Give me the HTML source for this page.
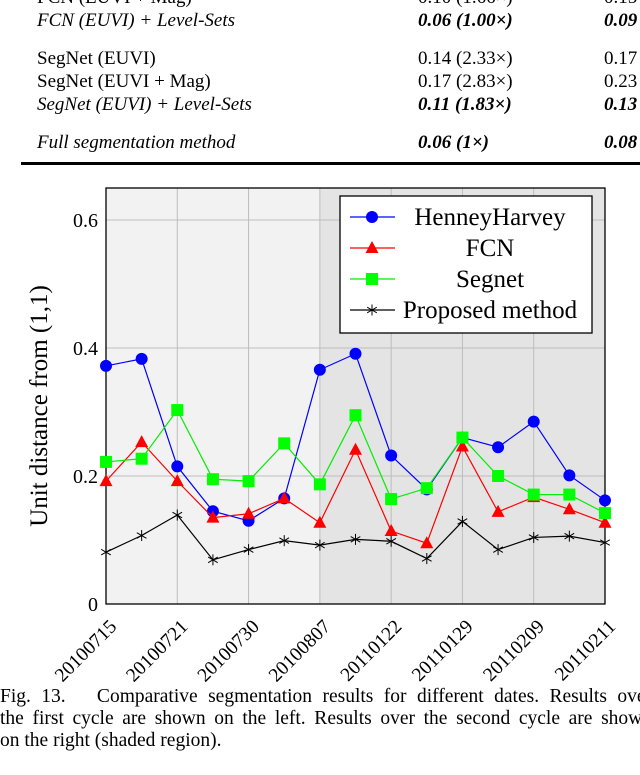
<!DOCTYPE html>
<html><head><meta charset="utf-8"><style>
body{margin:0;width:640px;height:775px;overflow:hidden;background:#fff;font-family:"Liberation Serif",serif;color:#000}
.t{position:absolute;font-size:19px;white-space:nowrap}
.i{font-style:italic}.b{font-weight:bold;font-style:italic}
.cap{position:absolute;left:0;width:652px;font-size:19.5px;white-space:nowrap;text-align:justify;text-align-last:justify;transform-origin:0 0;transform:scaleY(1.05)}
</style></head><body>
<div>
<div class="t" style="left:37px;top:-13px">FCN (EUVI + Mag)</div><div class="t" style="left:418px;top:-13px">0.10 (1.66×)</div><div class="t" style="left:604px;top:-13px">0.15</div>
<div class="t i" style="left:37px;top:10px">FCN (EUVI) + Level-Sets</div><div class="t b" style="left:418px;top:10px">0.06 (1.00×)</div><div class="t b" style="left:604px;top:10px">0.09</div>
<div class="t" style="left:37px;top:48px">SegNet (EUVI)</div><div class="t" style="left:418px;top:48px">0.14 (2.33×)</div><div class="t" style="left:604px;top:48px">0.17</div>
<div class="t" style="left:37px;top:71px">SegNet (EUVI + Mag)</div><div class="t" style="left:418px;top:71px">0.17 (2.83×)</div><div class="t" style="left:604px;top:71px">0.23</div>
<div class="t i" style="left:37px;top:94px">SegNet (EUVI) + Level-Sets</div><div class="t b" style="left:418px;top:94px">0.11 (1.83×)</div><div class="t b" style="left:604px;top:94px">0.13</div>
<div class="t i" style="left:37px;top:132px">Full segmentation method</div><div class="t b" style="left:418px;top:132px">0.06 (1×)</div><div class="t b" style="left:604px;top:132px">0.08</div>
<div style="position:absolute;left:21px;top:162px;width:619px;height:3px;background:#000"></div>
</div>
<svg id="chart" width="640" height="690" style="position:absolute;left:0;top:0" xmlns="http://www.w3.org/2000/svg"></svg>
<div>
<div class="cap" style="top:685px">Fig. 13.&nbsp;&nbsp;&nbsp;Comparative segmentation results for different dates. Results over</div>
<div class="cap" style="top:707px">the first cycle are shown on the left. Results over the second cycle are shown</div>
<div class="cap" style="top:729px;text-align-last:left">on the right (shaded region).</div>
</div>
<script>
const dates=["20100715","","20100721","","20100730","","20100807","","20110122","","20110129","","20110209","","20110211"];
const henney=[0.372,0.383,0.215,0.145,0.130,0.165,0.366,0.391,0.232,0.179,0.260,0.245,0.285,0.201,0.162];
const fcn=[0.192,0.253,0.192,0.135,0.141,0.165,0.127,0.241,0.114,0.095,0.246,0.144,0.167,0.148,0.127];
const segnet=[0.222,0.227,0.303,0.195,0.192,0.251,0.187,0.295,0.164,0.181,0.260,0.200,0.171,0.171,0.142];
const proposed=[0.081,0.107,0.139,0.069,0.085,0.099,0.092,0.101,0.098,0.071,0.129,0.085,0.104,0.106,0.096];
const yTicks=[0,0.2,0.4,0.6];
const yTickLabels=["0","0.2","0.4","0.6"];
const seriesNames=["HenneyHarvey","FCN","Segnet","Proposed method"];
const secondCycleStart=6;

const svg=document.getElementById('chart');const NS="http://www.w3.org/2000/svg";
const L=106,R=605,T=188,B=604;
const x=i=>L+(R-L)*i/(dates.length-1);
const y=v=>B-(B-T)*v/0.65;
function el(t,a,p){const e=document.createElementNS(NS,t);for(const k in a)e.setAttribute(k,a[k]);(p||svg).appendChild(e);return e;}
let e;
e=el('rect',{x:L,y:T,width:x(secondCycleStart)-L,height:B-T,fill:'#f2f2f2'});

e=el('rect',{x:x(secondCycleStart),y:T,width:R-x(secondCycleStart),height:B-T,fill:'#e4e4e4'});

dates.forEach((d,i)=>{if(d&&i>0&&i<dates.length-1){e=el('line',{x1:x(i),x2:x(i),y1:T,y2:B,stroke:'#bdbdbd','stroke-width':1});}});
yTicks.forEach((v,i)=>{if(v>0){e=el('line',{x1:L,x2:R,y1:y(v),y2:y(v),stroke:'#bdbdbd','stroke-width':1});}
 e=el('text',{x:L-8,y:y(v)+7,'text-anchor':'end','font-size':20,'font-family':'Liberation Serif, serif'});e.textContent=yTickLabels[i];
 });
e=el('rect',{x:L,y:T,width:R-L,height:B-T,fill:'none',stroke:'#000','stroke-width':1.3});

dates.forEach((d,i)=>{if(!d)return;e=el('text',{transform:`translate(${x(i)+2},${B+14}) rotate(-45)`,'text-anchor':'end','font-size':19.5,'font-family':'Liberation Serif, serif',dy:'0.7em'});e.textContent=d;
 });
e=el('text',{transform:`translate(47,${(T+B)/2+10}) rotate(-90)`,'text-anchor':'middle','font-size':25,'font-family':'Liberation Serif, serif'});e.textContent="Unit distance from (1,1)";

function marker(kind,cx,cy,col,g){
 if(kind==0)return el('circle',{cx,cy,r:6,fill:col},g);
 if(kind==1)return el('polygon',{points:`${cx},${cy-7} ${cx-6.5},${cy+5} ${cx+6.5},${cy+5}`,fill:col},g);
 if(kind==2)return el('rect',{x:cx-6,y:cy-6,width:12,height:12,fill:col},g);
 const s=el('g',{stroke:col,'stroke-width':1},g);
 [[0,-5.5],[4.8,2.8],[-4.8,2.8],[0,5.5],[4.8,-2.8],[-4.8,-2.8]].forEach(p=>el('line',{x1:cx,y1:cy,x2:cx+p[0],y2:cy+p[1]},s));
 return s;}
const series=[henney,fcn,segnet,proposed];const cols=['#0000ff','#ff0000','#00ff00','#000000'];
const lineCols=['#0000ff','#ff0000','#00ee00','#000000'];
const snames=['series-henneyharvey','series-fcn','series-segnet','series-proposed-method'];
series.forEach((s,k)=>{const g=el('g',{});
 e=el('polyline',{points:s.map((v,i)=>x(i)+','+y(v)).join(' '),fill:'none',stroke:lineCols[k],'stroke-width':1.2},g);
 
 s.forEach((v,i)=>{const m=marker(k,x(i),y(v),cols[k],g);});});
const lg=el('g',{});
el('rect',{x:340,y:196,width:252,height:137,fill:'#fff',stroke:'#000','stroke-width':1.3},lg);
seriesNames.forEach((n,k)=>{const ey=217+k*31;const g=el('g',{},lg);
 el('line',{x1:350,x2:395,y1:ey,y2:ey,stroke:lineCols[k],'stroke-width':1.2},g);marker(k,372,ey,cols[k],g);
 const t=el('text',{x:490,y:ey+8,'text-anchor':'middle','font-size':25,'font-family':'Liberation Serif, serif'},g);t.textContent=n;});
</script>
</body></html>
